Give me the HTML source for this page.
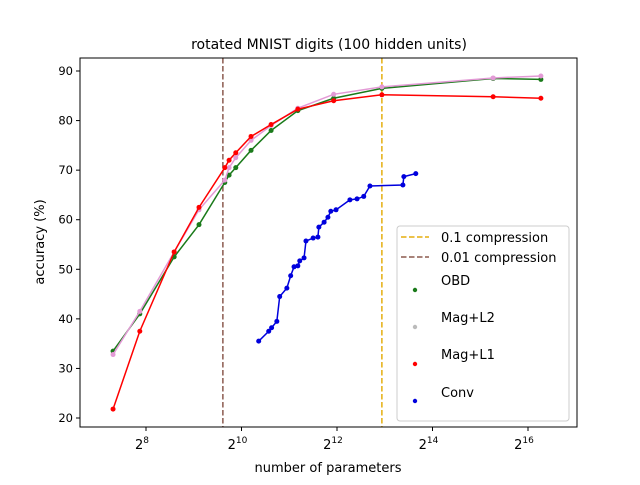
<!DOCTYPE html>
<html><head><meta charset="utf-8"><style>
body{margin:0;background:#fff}
text{font-family:"DejaVu Sans","Liberation Sans",sans-serif;fill:#000}
</style></head><body>
<svg id="chart" width="640" height="480" xmlns="http://www.w3.org/2000/svg">
<rect width="640" height="480" fill="#fff"/>
<g id="plot"></g>
</svg>
<script>
const xLog2 = [7.31,7.87,8.59,9.11,9.65,9.74,9.88,10.2,10.62,11.18,11.93,12.94,15.27,16.27];
const obdVals = [33.5,41,52.5,59,67.5,69,70.5,74,78,82,84.5,86.5,88.5,88.3];
const l2Vals = [32.8,41.5,53.5,62,68,70.5,72.5,76,79,82.5,85.3,86.8,88.6,89];
const l1Vals = [21.8,37.5,53.5,62.5,70.5,72,73.5,76.8,79.2,82.3,84,85.2,84.8,84.5];
const convX = [10.36,10.57,10.63,10.74,10.8,10.95,11.03,11.1,11.18,11.22,11.31,11.35,11.5,11.6,11.62,11.73,11.81,11.87,11.98,12.27,12.42,12.56,12.69,13.38,13.4,13.65];
const convVals = [35.5,37.5,38.2,39.5,44.5,46.2,48.7,50.5,50.7,51.7,52.3,55.7,56.3,56.5,58.5,59.5,60.5,61.7,62,64,64.2,64.7,66.8,67,68.7,69.3];
const xTicks = [8,10,12,14,16];
const yTicks = [20,30,40,50,60,70,80,90];
const vLines = [12.94,9.61];

const L=80,R=577,T=58,B=427;
const X=l=>146+(l-8)*47.75;
const Y=v=>418-(v-20)*4.957;
const NS="http://www.w3.org/2000/svg";
const g=document.getElementById('plot');
function mk(tag,attrs,parent){const e=document.createElementNS(NS,tag);for(const k in attrs)e.setAttribute(k,attrs[k]);(parent||g).appendChild(e);return e;}

// ticks
xTicks.forEach(t=>{
  mk('line',{x1:X(t),x2:X(t),y1:B,y2:B+4,stroke:'#000'});
  const tx=mk('text',{x:X(t)-4,y:B+22,'font-size':'13','text-anchor':'middle'});
  
  
  tx.innerHTML='2<tspan font-size="9" dy="-6">'+t+'</tspan>';
});
yTicks.forEach(t=>{
  mk('line',{x1:L-4,x2:L,y1:Y(t),y2:Y(t),stroke:'#000'});
  const tx=mk('text',{x:L-7,y:Y(t)+4,'font-size':'11.5','text-anchor':'end'});
  
  
  tx.textContent=t;
});
// vertical lines
const vCols=['#e5ae0f','#8b5a4f'];
vLines.forEach((v,i)=>{
  const ln=mk('line',{x1:X(v),x2:X(v),y1:T,y2:B,stroke:vCols[i],'stroke-width':1.5,'stroke-dasharray':'5.5,2.5'});
  
  
});
function series(xs,ys,col,name){
  const sg=mk('g',{});
  
  
  mk('polyline',{points:xs.map((x,i)=>X(x)+','+Y(ys[i])).join(' '),fill:'none',stroke:col,'stroke-width':1.5},sg);
  xs.forEach((x,i)=>{const c=mk('circle',{cx:X(x),cy:Y(ys[i]),r:2.5,fill:col},sg);
    
    });
}
series(xLog2,obdVals,'#1a7a1a','obd-series');
series(xLog2,l2Vals,'#e39ad6','mag-l2-series');
series(xLog2,l1Vals,'#ff0000','mag-l1-series');
series(convX,convVals,'#0000dd','conv-series');
// frame
mk('rect',{x:L,y:T,width:R-L,height:B-T,fill:'none',stroke:'#000','stroke-width':1});
</script>
<svg style="position:absolute;left:0;top:0" width="640" height="480" xmlns="http://www.w3.org/2000/svg">
<text x="329" y="49" font-size="14" text-anchor="middle">rotated MNIST digits (100 hidden units)</text>
<text x="328" y="472" font-size="13" text-anchor="middle">number of parameters</text>
<text x="44" y="242" font-size="13" text-anchor="middle" transform="rotate(-90 44 242)">accuracy (%)</text>
<g font-size="13">
<rect x="397" y="226" width="172" height="195" rx="3" fill="#fff" fill-opacity="0.8" stroke="#ccc"/>
<line x1="401" x2="429" y1="237" y2="237" stroke="#e5ae0f" stroke-width="1.5" stroke-dasharray="5.5,2.5"/>
<text x="441" y="242">0.1 compression</text>
<line x1="401" x2="429" y1="257" y2="257" stroke="#8b5a4f" stroke-width="1.5" stroke-dasharray="5.5,2.5"/>
<text x="441" y="262">0.01 compression</text>
<circle cx="415" cy="290" r="2.2" fill="#1a7a1a"/><text x="441" y="285">OBD</text>
<circle cx="415" cy="327" r="2.2" fill="#bbb"/><text x="441" y="322">Mag+L2</text>
<circle cx="415" cy="364" r="2.2" fill="#ff0000"/><text x="441" y="359">Mag+L1</text>
<circle cx="415" cy="401" r="2.2" fill="#0000dd"/><text x="441" y="397">Conv</text>
</g>
</svg>
</body></html>
